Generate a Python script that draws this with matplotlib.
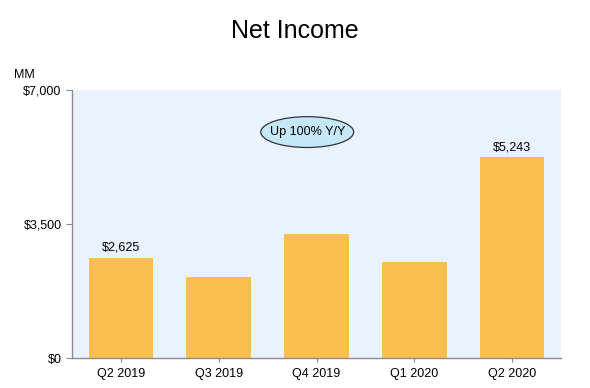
import matplotlib
matplotlib.use("Agg")
import matplotlib.pyplot as plt
from matplotlib.patches import Ellipse

categories = ["Q2 2019", "Q3 2019", "Q4 2019", "Q1 2020", "Q2 2020"]
values = [2625, 2120, 3250, 2510, 5243]
labels = ["$2,625", None, None, None, "$5,243"]
yticks = [0, 3500, 7000]
ytick_labels = ["$0", "$3,500", "$7,000"]

plt.rcParams['font.family'] = ['Liberation Sans', 'DejaVu Sans']

fig = plt.figure(figsize=(5.9, 3.88), dpi=100)
W, H = 590, 388
ax = fig.add_axes([72 / W, 1 - 358 / H, (561 - 72) / W, (358 - 90) / H])
ax.set_facecolor("#EAF2FD")

x = range(len(categories))
bars = ax.bar(x, values, width=0.66, color="#FBBF50", zorder=2)
for b, lab in zip(bars, labels):
    if lab:
        ax.annotate(lab, (b.get_x() + b.get_width() / 2, b.get_height()),
                    xytext=(0, 3), textcoords="offset points",
                    ha="center", va="bottom", fontsize=9, color="black")

ax.set_xlim(-0.5, len(categories) - 0.5)
ax.set_ylim(0, 7000)
ax.set_xticks(list(x))
ax.set_xticklabels(categories, fontsize=9)
ax.set_yticks(yticks)
ax.set_yticklabels(ytick_labels, fontsize=9)
for s in ["top", "right"]:
    ax.spines[s].set_visible(False)
for s in ["left", "bottom"]:
    ax.spines[s].set_color("#8C8C8C")
    ax.spines[s].set_linewidth(1.0)
ax.tick_params(axis="both", colors="#8C8C8C", labelcolor="black", length=4, width=0.8)
ax.tick_params(axis="x", length=3, pad=4)

ell = Ellipse((0.481, 0.843), 0.19, 0.115, transform=ax.transAxes,
              facecolor="#C5E8F8", edgecolor="#333333", linewidth=0.9, zorder=3)
ax.add_patch(ell)
ax.text(0.481, 0.843, "Up 100% Y/Y", transform=ax.transAxes, ha="center",
        va="center", fontsize=9, zorder=4)

fig.text(0.5, 1 - 31 / H, "Net Income", ha="center", va="center", fontsize=18)
fig.text(14 / W, 1 - 75 / H, "MM", ha="left", va="center", fontsize=9)

fig.savefig("out.png", dpi=100)
